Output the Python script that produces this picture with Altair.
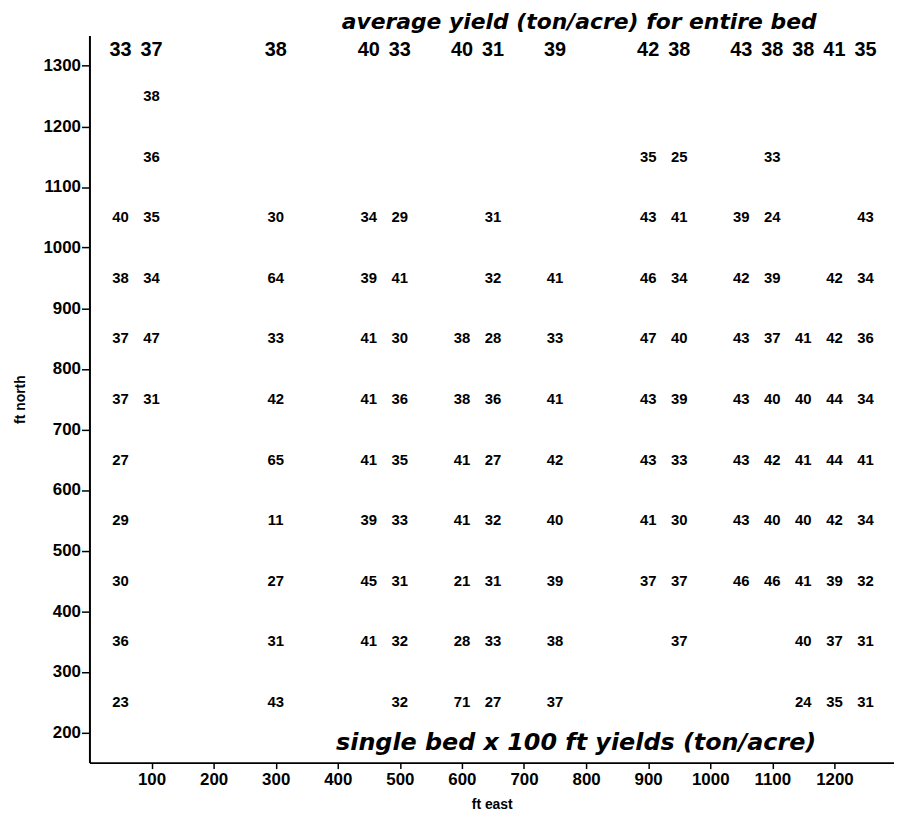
import altair as alt
import pandas as pd

# bed positions (ft east) for the 15 beds
east = [50, 100, 300, 450, 500, 600, 650, 750, 900, 950, 1050, 1100, 1150, 1200, 1250]

# average yield (ton/acre) for entire bed
bed_avg = [33, 37, 38, 40, 33, 40, 31, 39, 42, 38, 43, 38, 38, 41, 35]

# single bed x 100 ft yields (ton/acre), one list per row (ft north)
N = None
row_1250 = [N, 38, N, N, N, N, N, N, N, N, N, N, N, N, N]
row_1150 = [N, 36, N, N, N, N, N, N, 35, 25, N, 33, N, N, N]
row_1050 = [40, 35, 30, 34, 29, N, 31, N, 43, 41, 39, 24, N, N, 43]
row_950 = [38, 34, 64, 39, 41, N, 32, 41, 46, 34, 42, 39, N, 42, 34]
row_850 = [37, 47, 33, 41, 30, 38, 28, 33, 47, 40, 43, 37, 41, 42, 36]
row_750 = [37, 31, 42, 41, 36, 38, 36, 41, 43, 39, 43, 40, 40, 44, 34]
row_650 = [27, N, 65, 41, 35, 41, 27, 42, 43, 33, 43, 42, 41, 44, 41]
row_550 = [29, N, 11, 39, 33, 41, 32, 40, 41, 30, 43, 40, 40, 42, 34]
row_450 = [30, N, 27, 45, 31, 21, 31, 39, 37, 37, 46, 46, 41, 39, 32]
row_350 = [36, N, 31, 41, 32, 28, 33, 38, N, 37, N, N, 40, 37, 31]
row_250 = [23, N, 43, N, 32, 71, 27, 37, N, N, N, N, 24, 35, 31]

rows = {
    1250: row_1250, 1150: row_1150, 1050: row_1050, 950: row_950,
    850: row_850, 750: row_750, 650: row_650, 550: row_550,
    450: row_450, 350: row_350, 250: row_250,
}

x_ticks = [100, 200, 300, 400, 500, 600, 700, 800, 900, 1000, 1100, 1200]
y_ticks = [200, 300, 400, 500, 600, 700, 800, 900, 1000, 1100, 1200, 1300]

recs = []
for north, vals in rows.items():
    for e, v in zip(east, vals):
        if v is not None:
            recs.append({"east": e, "north": north, "label": str(v)})
df = pd.DataFrame(recs)
df_avg = pd.DataFrame({"east": east, "label": [str(v) for v in bed_avg]})

FONT = "Liberation Sans"

xscale = alt.Scale(domain=[0, 1296], nice=False, zero=False)
yscale = alt.Scale(domain=[150, 1350], nice=False, zero=False)

xaxis = alt.Axis(values=x_ticks, format="d", title="ft east", labelFont=FONT, labelFontSize=17,
                 labelFontWeight="bold", titleFont=FONT, titleFontSize=14,
                 titleFontWeight="bold", tickSize=6, labelPadding=3, titlePadding=10,
                 grid=False, labelFlush=False)
yaxis = alt.Axis(values=y_ticks, format="d", title="ft north", labelFont=FONT, labelFontSize=17,
                 labelFontWeight="bold", titleFont=FONT, titleFontSize=14,
                 titleFontWeight="bold", tickSize=8, labelPadding=1, titlePadding=16,
                 grid=False, labelFlush=False)

cells = alt.Chart(df).mark_text(font=FONT, fontWeight="bold", fontSize=15, color="black").encode(
    x=alt.X("east:Q", scale=xscale, axis=xaxis),
    y=alt.Y("north:Q", scale=yscale, axis=yaxis),
    text="label:N",
)

avgs = alt.Chart(df_avg).mark_text(font=FONT, fontWeight="bold", fontSize=20, color="black").encode(
    x=alt.X("east:Q", scale=xscale),
    y=alt.value(15),
    text="label:N",
)

top_note = alt.Chart(pd.DataFrame({"t": ["average yield (ton/acre) for entire bed"]})).mark_text(
    font="DejaVu Sans", fontWeight="bold", fontStyle="italic", fontSize=22, color="black",
    baseline="top"
).encode(x=alt.value(493), y=alt.value(-24), text="t:N")

bottom_note = alt.Chart(pd.DataFrame({"t": ["single bed x 100 ft yields (ton/acre)"]})).mark_text(
    font="DejaVu Sans", fontWeight="bold", fontStyle="italic", fontSize=24, color="black"
).encode(x=alt.value(490), y=alt.value(712), text="t:N")

chart = alt.layer(cells, avgs, top_note, bottom_note).properties(
    width=810, height=732,
    autosize=alt.AutoSizeParams(type="none"),
    padding={"left": 82, "top": 25, "right": 0, "bottom": 50},
).configure_view(stroke=None).configure_axis(
    domainColor="black", domainWidth=2, tickColor="black", tickWidth=1.5,
    labelColor="black", titleColor="black",
)

chart.save("out.html", embed_options={"renderer": "svg", "actions": False})
